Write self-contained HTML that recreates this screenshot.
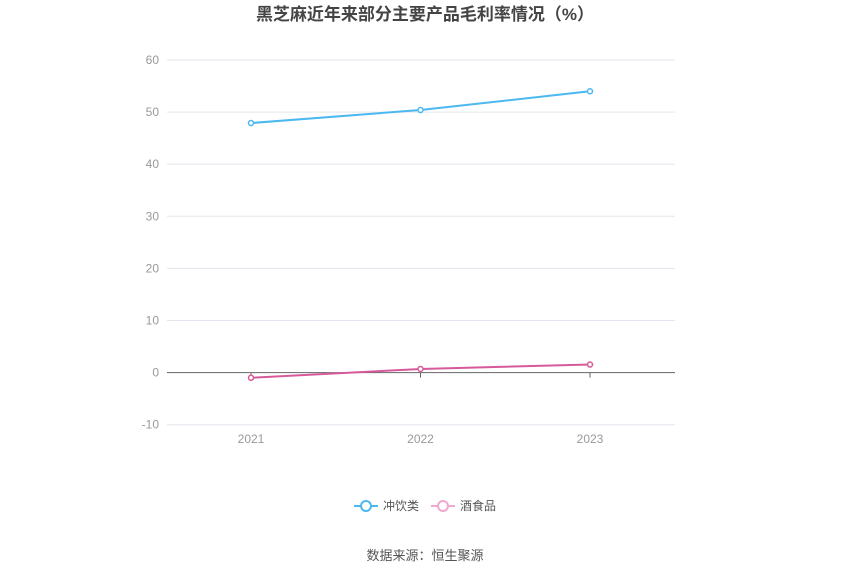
<!DOCTYPE html>
<html><head><meta charset="utf-8"><style>
body{margin:0;background:#fff;width:850px;height:574px;overflow:hidden;font-family:"Liberation Sans","Noto Sans CJK SC",sans-serif}
</style></head><body>
<svg width="850" height="574" xmlns="http://www.w3.org/2000/svg">
<text x="425" y="20" text-anchor="middle" font-size="17" font-weight="bold" fill="#444" font-family="Liberation Sans, Noto Sans CJK SC, sans-serif">黑芝麻近年来部分主要产品毛利率情况（%）</text>
<g id="grid"></g><g id="series"></g>
<g font-family="Liberation Sans, Noto Sans CJK SC, sans-serif" font-size="12" fill="#555">
<g><line x1="354" y1="506" x2="378" y2="506" stroke="#4bb8f0" stroke-width="2"/><circle cx="366" cy="506" r="5" fill="#fff" stroke="#4bb8f0" stroke-width="2"/><text x="383" y="510">冲饮类</text></g>
<g><line x1="431" y1="506" x2="455" y2="506" stroke="#f0a8cf" stroke-width="2"/><circle cx="443" cy="506" r="5" fill="#fff" stroke="#f0a8cf" stroke-width="2"/><text x="460" y="510">酒食品</text></g>
</g>
<text x="425" y="560" text-anchor="middle" font-size="13" fill="#555" font-family="Liberation Sans, Noto Sans CJK SC, sans-serif">数据来源：恒生聚源</text>
</svg>
<script>
const categories=["2021","2022","2023"];
const yTicks=[-10,0,10,20,30,40,50,60];
const drinks=[47.9,50.4,54.0];
const wineFood=[-1.0,0.7,1.55];
const NS="http://www.w3.org/2000/svg";
const x0=167,x1=675,y=v=>372.6-v*5.21;
const xs=i=>251+i*169.5;
function mk(t,a,p){const e=document.createElementNS(NS,t);for(const k in a)e.setAttribute(k,a[k]);p.appendChild(e);return e;}
const g=document.getElementById('grid');
yTicks.forEach(v=>{
 const l=mk('line',{x1:x0,x2:x1,y1:y(v),y2:y(v),stroke:v===0?'#666':'#e3e6ee','stroke-width':1},g);
 
 
 const t=mk('text',{x:159,y:y(v)+4,'text-anchor':'end','font-size':12,fill:'#999'},g);
 t.textContent=v;
 
 
});
categories.forEach((c,i)=>{
 const tk=mk('line',{x1:xs(i),x2:xs(i),y1:y(0),y2:y(0)+5,stroke:'#666'},g);
 
 
 const t=mk('text',{x:xs(i),y:443,'text-anchor':'middle','font-size':12,fill:'#999'},g);
 t.textContent=c;
 
 
});
const s=document.getElementById('series');
[[drinks,'#4bb8f0','drinks'],[wineFood,'#d65a9a','wine-food']].forEach(([d,c,n])=>{
 const p=mk('polyline',{points:d.map((v,i)=>xs(i)+','+y(v)).join(' '),fill:'none',stroke:c,'stroke-width':2},s);
 
 
 d.forEach((v,i)=>{
  const pt=mk('circle',{cx:xs(i),cy:y(v),r:2.5,fill:'#fff',stroke:c,'stroke-width':1.5},s);
  
  
 });
});
</script>
</body></html>
